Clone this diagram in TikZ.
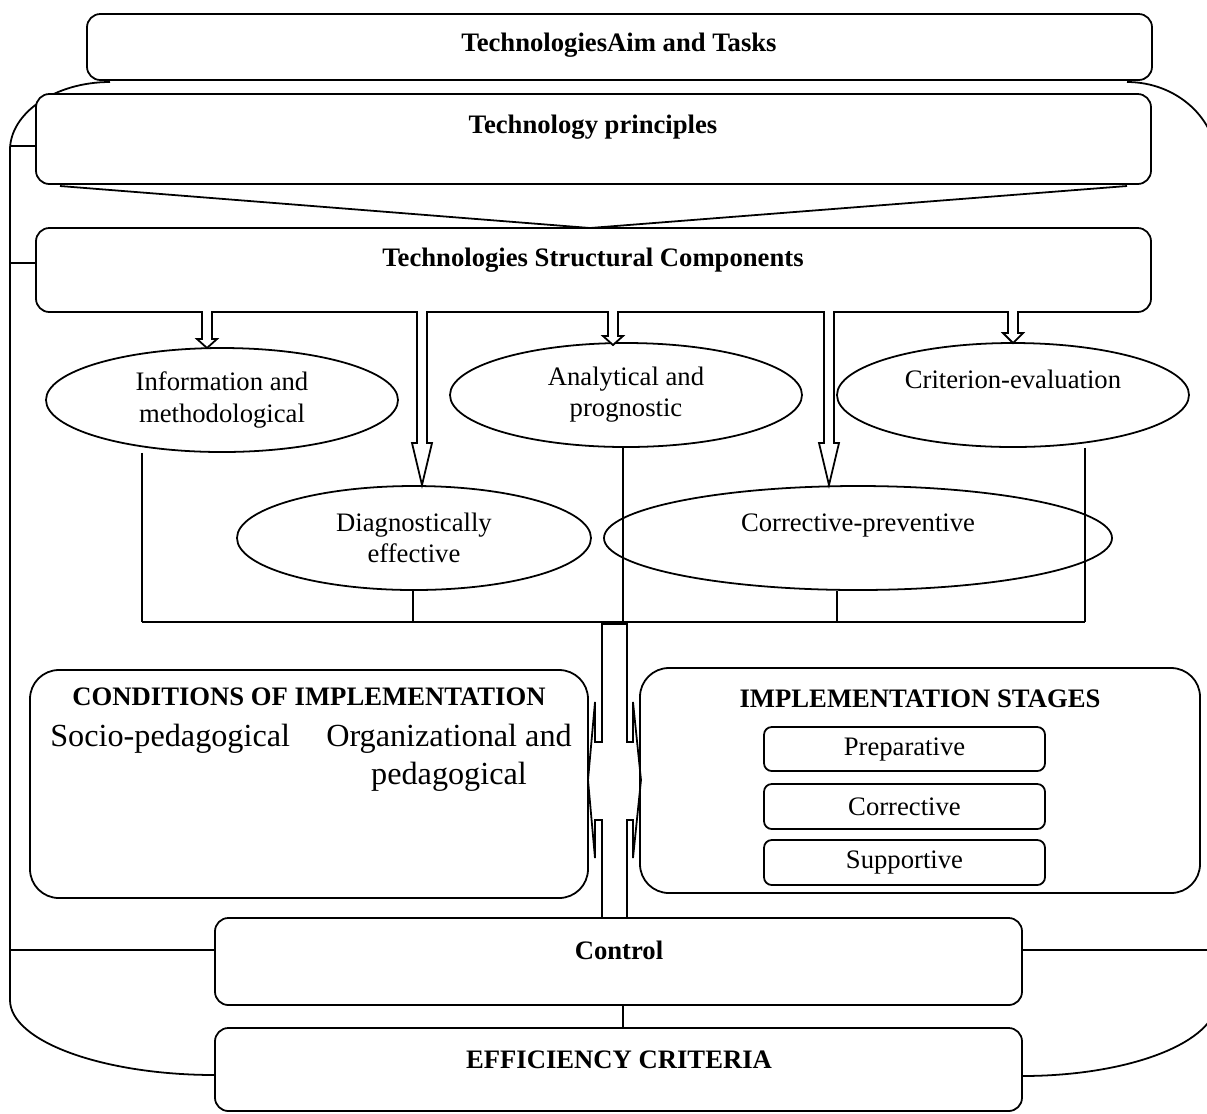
\documentclass[tikz,border=0pt]{standalone}
\usepackage{fontspec}
\setmainfont{Liberation Serif}
\usetikzlibrary{fit,shapes.geometric}

\begin{document}
\begin{tikzpicture}
  [x=0.45pt, y=-0.45pt, line width=0.8pt,
   txt/.style={font=\fontsize{12pt}{14pt}\selectfont, align=center},
   head/.style={font=\fontsize{12pt}{14pt}\selectfont\bfseries, align=center},
   bigtxt/.style={font=\fontsize{14.5pt}{17pt}\selectfont, align=center},
   box/.style={draw, rounded corners=6pt, fill=white, inner sep=0pt, txt},
   bigbox/.style={box, rounded corners=13pt},
   stagebox/.style={box, rounded corners=3.5pt},
   oval/.style={ellipse, draw, fill=white, inner sep=0pt, txt,
                minimum width=158.4pt, minimum height=46.8pt}]

  \useasboundingbox (0,0) rectangle (1207,1113);
  \clip (0,0) rectangle (1207,1113);

  % outer feedback loop
  \coordinate (oTL) at (110,82);
  \coordinate (oTR) at (1127,82);
  \coordinate (oBL) at (215,1075);
  \coordinate (oBR) at (1022,1076);
  \coordinate (oL1) at (10,146);
  \coordinate (oL2) at (10,263);
  \coordinate (oL3) at (10,950);
  \coordinate (oR3) at (1217,950);

  \draw (oTL) .. controls (55,82) and (10,113) .. (10,150)
        -- (10,1000) .. controls (10,1041) and (102,1075) .. (oBL);
  \draw (oTR) .. controls (1177,82) and (1217,119) .. (1217,163)
        -- (1217,1000) .. controls (1217,1042) and (1130,1076) .. (oBR);

  % boxes
  \node[box, fit={(87,14) (1152,80)}] (aim) {};
  \node[head] at (619,45) {TechnologiesAim and Tasks};

  \node[box, fit={(36,94) (1151,184)}] (prin) {};
  \node[head] at (593,127) {Technology principles};

  \node[box, fit={(36,228) (1151,312)}] (comp) {};
  \node[head] at (593,260) {Technologies Structural Components};

  \coordinate (triL) at (60,186);
  \coordinate (triA) at (590,228);
  \coordinate (triR) at (1127,186);
  \draw (triL) -- (triA) -- (triR);

  \draw (oL1) -- (oL1 -| prin.west);
  \draw (oL2) -- (oL2 -| comp.west);

  % structural components
  \node[oval] (info) at (222,400) {Information and\\methodological};
  \node[oval] (anal) at (626,395) {Analytical and\\prognostic};
  \node[oval] (crit) at (1013,395) {Criterion-evaluation\\\mbox{}};
  \node[oval, minimum width=159.3pt] (diag) at (414,538) {Diagnostically\\effective};
  \node[oval, minimum width=228.6pt] (corr) at (858,538) {Corrective-preventive\\\mbox{}};

  \foreach \ax/\ay/\al in {207/348/9, 422/485/42, 613/345/9, 829/485/42, 1013/343/10}
    \draw[fill=white] (\ax-5,311) -- (\ax-5,\ay-\al) -- (\ax-10,\ay-\al) -- (\ax,\ay)
      -- (\ax+10,\ay-\al) -- (\ax+5,\ay-\al) -- (\ax+5,311);

  % bus
  \coordinate (b1) at (142,622);
  \coordinate (b2) at (413,622);
  \coordinate (b3) at (623,622);
  \coordinate (b4) at (837,622);
  \coordinate (b5) at (1085,622);
  \draw (b1) -- (b5);
  \draw (info.south -| b1) -- (b1);
  \draw (diag.south -| b2) -- (b2);
  \draw (anal.south -| b3) -- (b3);
  \draw (corr.south -| b4) -- (b4);
  \draw (crit.south -| b5) -- (b5);

  % conditions and stages
  \node[bigbox, fit={(30,670) (588,898)}] (cond) {};
  \node[head] at (309,697) {CONDITIONS OF IMPLEMENTATION};
  \node[bigtxt, anchor=north west] at (42,716) {Socio-pedagogical};
  \node[bigtxt, anchor=north] at (449,716) {Organizational and\\pedagogical};

  \node[bigbox, fit={(640,668) (1200,893)}] (stag) {};
  \node[head] at (920,699) {IMPLEMENTATION STAGES};
  \node[stagebox, fit={(764,727) (1045,771)}] (prep) {};
  \node[stagebox, fit={(764,784) (1045,829)}] (cstg) {};
  \node[stagebox, fit={(764,840) (1045,885)}] (supp) {};
  \node[txt] at (prep) {Preparative};
  \node[txt] at (cstg) {Corrective};
  \node[txt] at (supp) {Supportive};

  % control and efficiency
  \node[box, fit={(215,918) (1022,1005)}] (ctrl) {};
  \node[head] at (619,950) {Control};
  \node[box, fit={(215,1028) (1022,1111)}] (effc) {};
  \node[head] at (619,1060) {EFFICIENCY CRITERIA};

  \draw (oL3) -- (oL3 -| ctrl.west);
  \draw (ctrl.east |- oR3) -- (oR3);
  \draw (ctrl.south -| b3) -- (effc.north -| b3);

  % double arrow between conditions and stages
  \draw (602,918) -- (602,820) -- (595,820) -- (595,858) -- (588,780) -- (595,702)
        -- (595,742) -- (602,742) -- (602,624) -- (627,624) -- (627,742) -- (633,742)
        -- (633,702) -- (641,780) -- (633,858) -- (633,820) -- (627,820) -- (627,918);
\end{tikzpicture}
\end{document}
